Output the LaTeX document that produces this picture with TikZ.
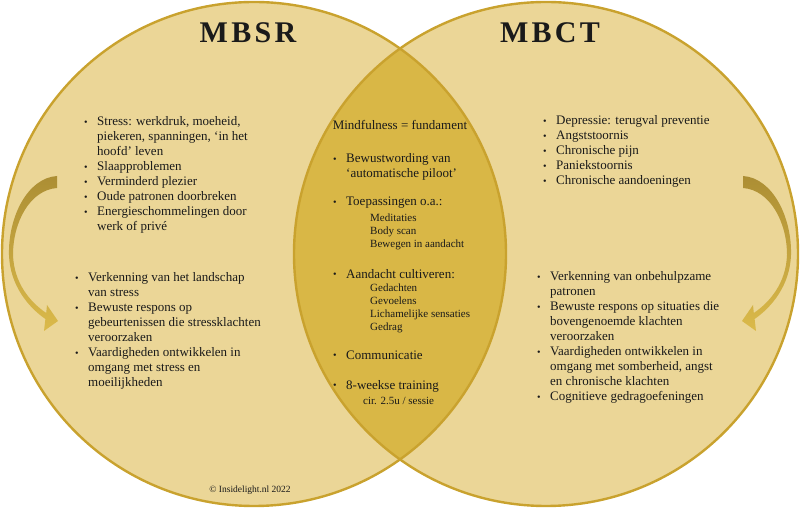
\documentclass[tikz,border=0pt]{standalone}
\usepackage{fontspec}
\setmainfont{Liberation Serif}
\newcommand\bul{\makebox[13pt][l]{\raisebox{0.8pt}{\fontsize{10}{10}\selectfont\textbullet}}}
\newcommand\ind{\hspace*{13pt}}
\newcommand\arrowshape{(57,332) .. controls (27,330) and (8,290) .. (9,253) .. controls (10,223) and (28,201) .. (45.4,189) -- (44,177) -- (58,187) -- (47,203) -- (46.2,195) .. controls (30,206) and (14,225) .. (13,253) .. controls (13,286) and (30,318) .. (57,320) -- cycle}

\begin{document}
\begin{tikzpicture}[x=1pt,y=1pt, every node/.style={inner sep=0pt},
  title/.style={font=\fontsize{30}{32}\selectfont\bfseries\addfontfeature{LetterSpace=11}, text=ink, anchor=base},
  list/.style={font=\fontsize{13}{15}\selectfont, text=ink, align=left, anchor=base west},
  sublist/.style={font=\fontsize{11}{13}\selectfont, text=ink, align=left, anchor=base west},
  ring/.style={draw=rim, line width=2.4pt}]
\definecolor{disc}{HTML}{EBD697}\definecolor{lens}{HTML}{D9B746}
\definecolor{rim}{HTML}{C9A22E}\definecolor{ink}{HTML}{1A1A1A}
\definecolor{arrowdark}{HTML}{AC8E34}\definecolor{arrowlight}{HTML}{DBBA4A}
\useasboundingbox (0,0) rectangle (800,508);
\fill[disc] (254,254) circle (252);
\fill[disc] (546,254) circle (252);
\begin{scope}
\clip (254,254) circle (252);
\fill[lens] (546,254) circle (252);
\end{scope}
\draw[ring] (254,254) circle (252);
\draw[ring] (546,254) circle (252);
\shade[top color=arrowdark, bottom color=arrowlight] \arrowshape;
\begin{scope}[xshift=800pt, xscale=-1]
\shade[top color=arrowdark, bottom color=arrowlight] \arrowshape;
\end{scope}
\node[title] (mbsr) at (248,465.3) {MBSR};
\node[title] (mbct) at (550,465.3) {MBCT};
\node[list] (mbsrKlachten) at (84,277) {\bul Stress: werkdruk, moeheid,\\ \ind piekeren, spanningen, `in het\\ \ind hoofd' leven\\ \bul Slaapproblemen\\ \bul Verminderd plezier\\ \bul Oude patronen doorbreken\\ \bul Energieschommelingen door\\ \ind werk of privé};
\node[list] (mbsrDoelen) at (75,121) {\bul Verkenning van het landschap\\ \ind van stress\\ \bul Bewuste respons op\\ \ind gebeurtenissen die stressklachten\\ \ind veroorzaken\\ \bul Vaardigheden ontwikkelen in\\ \ind omgang met stress en\\ \ind moeilijkheden};
\node[list] (mbctKlachten) at (543,323) {\bul Depressie: terugval preventie\\ \bul Angststoornis\\ \bul Chronische pijn\\ \bul Paniekstoornis\\ \bul Chronische aandoeningen};
\node[list] (mbctDoelen) at (537,107) {\bul Verkenning van onbehulpzame\\ \ind patronen\\ \bul Bewuste respons op situaties die\\ \ind bovengenoemde klachten\\ \ind veroorzaken\\ \bul Vaardigheden ontwikkelen in\\ \ind omgang met somberheid, angst\\ \ind en chronische klachten\\ \bul Cognitieve gedragoefeningen};
\node[list, anchor=base] (fundament) at (400,378) {Mindfulness = fundament};
\node[list] (bewust) at (333,330) {\bul Bewustwording van\\ \ind `automatische piloot'};
\node[list] (toep) at (333,302) {\bul Toepassingen o.a.:};
\node[sublist] (toepSub) at (370,260.3) {Meditaties\\ Body scan\\ Bewegen in aandacht};
\node[list] (aandacht) at (333,229.7) {\bul Aandacht cultiveren:};
\node[sublist] (aandachtSub) at (370,177.3) {Gedachten\\ Gevoelens\\ Lichamelijke sensaties\\ Gedrag};
\node[list] (comm) at (333,148.7) {\bul Communicatie};
\node[list] (training) at (333,118.7) {\bul 8-weekse training};
\node[sublist] (sessie) at (363,103) {cir. 2.5u / sessie};
\node[font=\fontsize{9.5}{11}\selectfont, text=ink, anchor=base] (copy) at (250,15.3) {© Insidelight.nl 2022};
\end{tikzpicture}
\end{document}
